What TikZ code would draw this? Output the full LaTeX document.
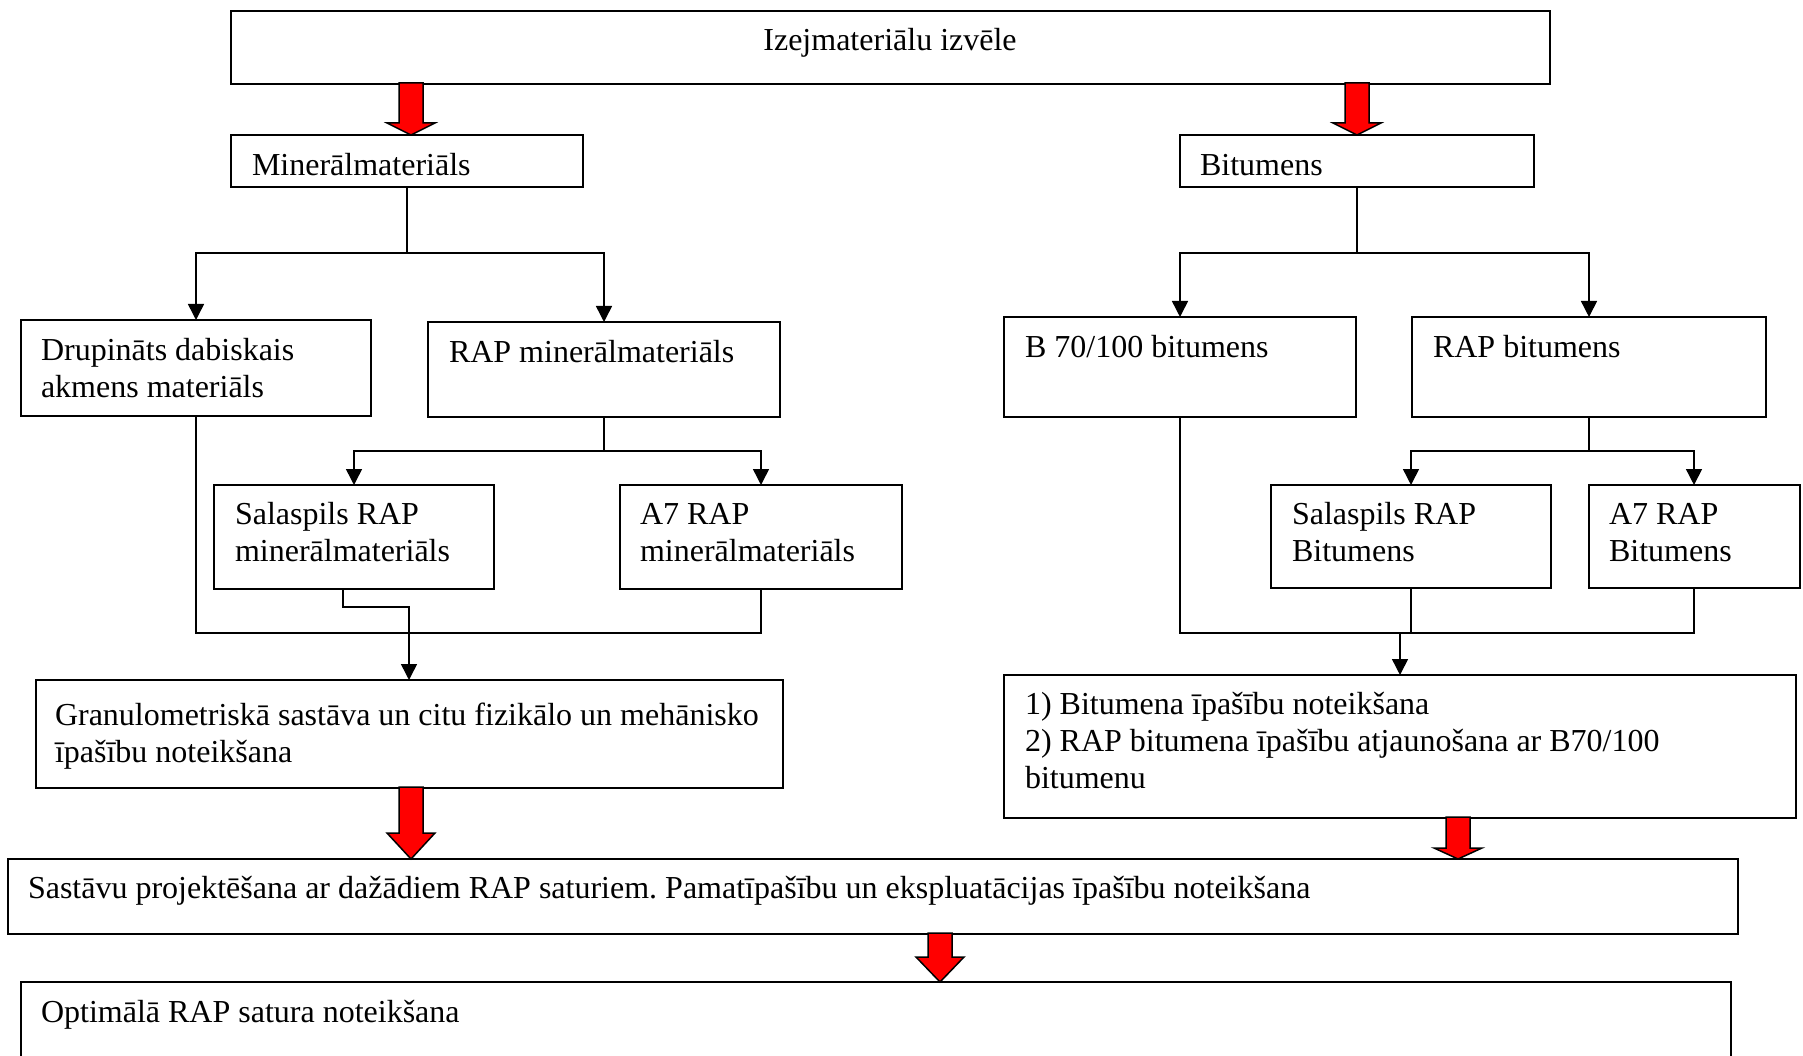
\documentclass[tikz,border=0pt]{standalone}
\usepackage{fontspec}
\setmainfont{Liberation Serif}
\frenchspacing
\usetikzlibrary{arrows.meta,calc}
\tikzset{
  box/.style={draw=black, line width=1.8pt, rectangle, inner sep=0pt, outer sep=0pt, anchor=north west, fill=white},
  txt/.style={inner sep=0pt, outer sep=0pt, anchor=north west, align=left, font=\fontsize{32}{37}\selectfont},
  conn/.style={draw=black, line width=1.5pt},
  arr/.style={conn, -{Triangle[length=16pt,width=16pt]}},
  redarr/.style={draw=black, line width=1.5pt, fill=red, line join=miter}
}
\newcommand\bigarr[4]{%
  \draw[redarr] let \p1=(#1.south), \p2=(#2.north) in
    ({#3pt-12pt},{\y1+1pt}) -- ({#3pt-12pt},{\y2+#4pt}) -- ({#3pt-24pt},{\y2+#4pt}) --
    (#3pt,\y2) -- ({#3pt+24pt},{\y2+#4pt}) -- ({#3pt+12pt},{\y2+#4pt}) --
    ({#3pt+12pt},{\y1+1pt}) -- cycle;}
\begin{document}
\begin{tikzpicture}[x=1pt,y=-1pt]
\path[use as bounding box, fill=white] (0,0) rectangle (1803,1056);
\clip (0,0) rectangle (1803,1056);

% boxes
\node[box, minimum width=1319pt, minimum height=73pt] (top) at (231,11) {};
\node[box, minimum width=352pt, minimum height=52pt] (mineral) at (231,135) {};
\node[box, minimum width=354pt, minimum height=52pt] (bitumens) at (1180,135) {};
\node[box, minimum width=350pt, minimum height=96pt] (drup) at (21,320) {};
\node[box, minimum width=352pt, minimum height=95pt] (rapmin) at (428,322) {};
\node[box, minimum width=280pt, minimum height=104pt] (salmin) at (214,485) {};
\node[box, minimum width=282pt, minimum height=104pt] (a7min) at (620,485) {};
\node[box, minimum width=352pt, minimum height=100pt] (b70) at (1004,317) {};
\node[box, minimum width=354pt, minimum height=100pt] (rapbit) at (1412,317) {};
\node[box, minimum width=280pt, minimum height=103pt] (salbit) at (1271,485) {};
\node[box, minimum width=211pt, minimum height=103pt] (a7bit) at (1589,485) {};
\node[box, minimum width=747pt, minimum height=108pt] (granulo) at (36,680) {};
\node[box, minimum width=792pt, minimum height=143pt] (bitprop) at (1004,675) {};
\node[box, minimum width=1730pt, minimum height=75pt] (sast) at (8,859) {};
\node[box, minimum width=1710pt, minimum height=110pt] (optim) at (21,982) {};

% texts
\node[txt, anchor=north] (t-top) at (890,25) {\strut Izejmateriālu izvēle};
\node[txt] (t-mineral) at (252,150) {\strut Minerālmateriāls};
\node[txt] (t-bitumens) at (1200,150) {\strut Bitumens};
\node[txt] (t-drup) at (41,335) {\strut Drupināts dabiskais\\akmens materiāls};
\node[txt] (t-rapmin) at (449,337) {\strut RAP minerālmateriāls};
\node[txt] (t-salmin) at (235,499) {\strut Salaspils RAP\\minerālmateriāls};
\node[txt] (t-a7min) at (640,499) {\strut A7 RAP\\minerālmateriāls};
\node[txt] (t-b70) at (1025,332) {\strut B 70/100 bitumens};
\node[txt] (t-rapbit) at (1433,332) {\strut RAP bitumens};
\node[txt] (t-salbit) at (1292,499) {\strut Salaspils RAP\\Bitumens};
\node[txt] (t-a7bit) at (1609,499) {\strut A7 RAP\\Bitumens};
\node[txt] (t-granulo) at (55,700) {\strut Granulometriskā sastāva un citu fizikālo un mehānisko\\īpašību noteikšana};
\node[txt] (t-bitprop) at (1025,689) {\strut 1) Bitumena īpašību noteikšana\\2) RAP bitumena īpašību atjaunošana ar B70/100\\bitumenu};
\node[txt] (t-sast) at (28,873) {\strut Sastāvu projektēšana ar dažādiem RAP saturiem. Pamatīpašību un ekspluatācijas īpašību noteikšana};
\node[txt] (t-optim) at (41,997) {\strut Optimālā RAP satura noteikšana};

% junctions
\coordinate (mj) at (407,253);
\coordinate (rmj) at (604,451);
\coordinate (bj) at (1357,253);
\coordinate (rbj) at (1589,451);

% left connectors
\draw[conn] (mineral.south) -- (mj);
\draw[arr] (mj) -| (drup.north);
\draw[arr] (mj) -| (rapmin.north);
\draw[conn] (rapmin.south) -- (rmj);
\draw[arr] (rmj) -| (salmin.north);
\draw[arr] (rmj) -| (a7min.north);
\draw[conn] (drup.south) -- (196,633) -| (a7min.south);
\draw[arr] ([xshift=-11pt]salmin.south) -- ++(0,18) -| ([xshift=-0.5pt]granulo.north);

% right connectors
\draw[conn] (bitumens.south) -- (bj);
\draw[arr] (bj) -| (b70.north);
\draw[arr] (bj) -| (rapbit.north);
\draw[conn] (rapbit.south) -- (rbj);
\draw[arr] (rbj) -| (salbit.north);
\draw[arr] (rbj) -| ([xshift=-0.5pt]a7bit.north);
\draw[conn] (b70.south) -- (1180,633) -| ([xshift=-0.5pt]a7bit.south);
\draw[conn] (salbit.south) -- (1411,633);
\coordinate (bpj) at (1400,633);
\draw[arr] (bpj) -- (bitprop.north);

% big red arrows
\bigarr{top}{mineral}{411}{12}
\bigarr{top}{bitumens}{1357}{12}
\bigarr{granulo}{sast}{411}{26}
\bigarr{bitprop}{sast}{1458}{11}
\bigarr{sast}{optim}{940}{25}
\end{tikzpicture}
\end{document}
